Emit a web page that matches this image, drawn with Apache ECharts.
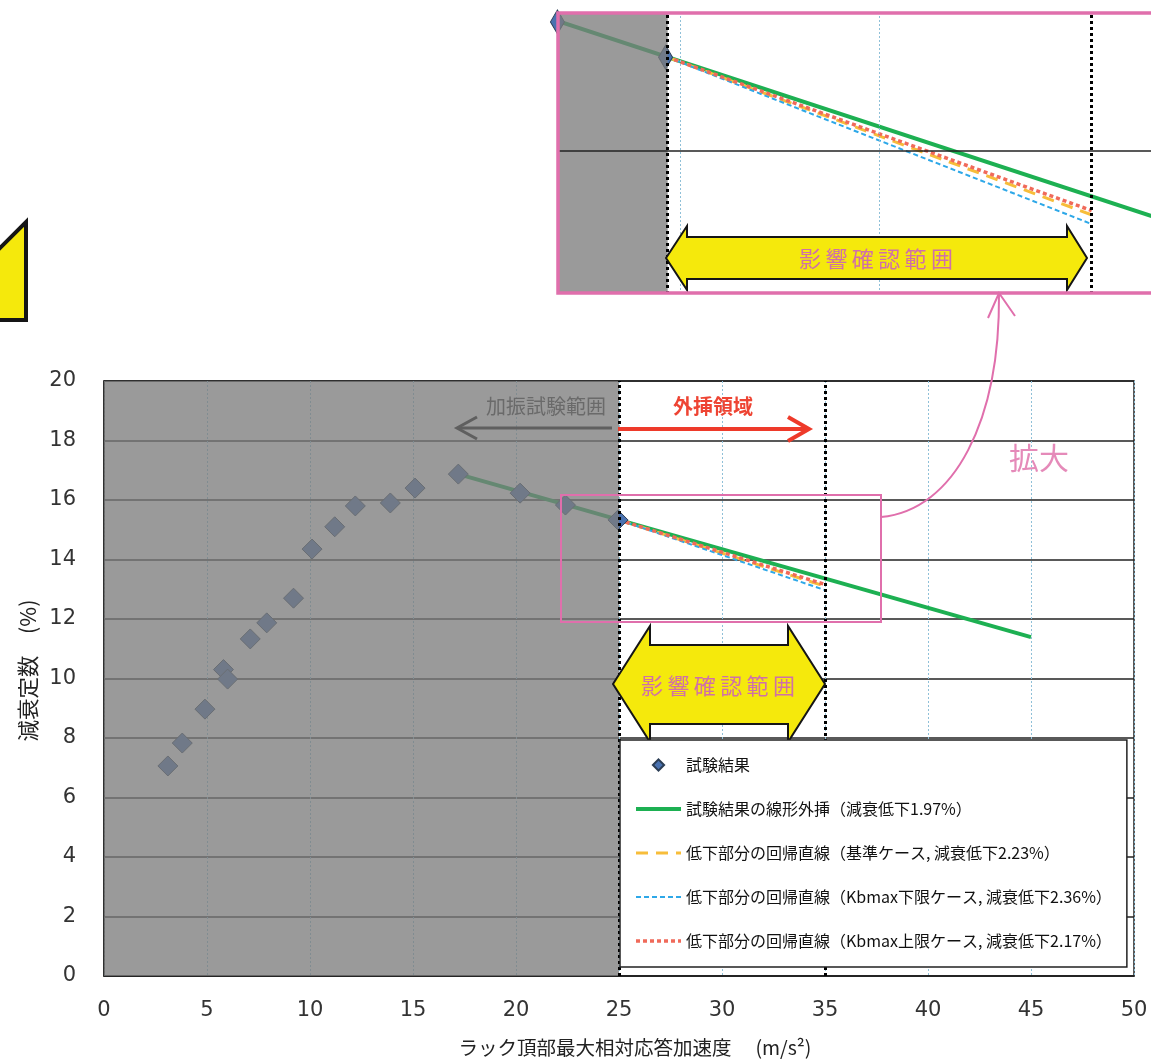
<!DOCTYPE html>
<html>
<head>
<meta charset="utf-8">
<script src="https://cdn.jsdelivr.net/npm/echarts@6/dist/echarts.min.js"></script>
<style>
html, body {margin: 0; padding: 0; background: #fff;}
#main {width: 1151px; height: 1064px;}
</style>
</head>
<body>
<div id="main"></div>
<script>
// 試験結果（読み取り値）
var testX = [3.1, 3.8, 4.9, 5.8, 6.0, 7.1, 7.9, 9.2, 10.1, 11.2, 12.2, 13.9, 15.1, 17.2, 20.2, 22.4, 24.95];
var testY = [7.06, 7.83, 8.97, 10.3, 9.98, 11.33, 11.87, 12.7, 14.35, 15.1, 15.8, 15.9, 16.4, 16.87, 16.23, 15.83, 15.33];
// 線形外挿
var linearX = [17.2, 45];
var linearY = [16.87, 11.39];
// 回帰直線 (25〜35)
var regX = [25, 35];
var baseY = [15.33, 13.10];
var lowerY = [15.33, 12.97];
var upperY = [15.33, 13.16];

var names = [
    '試験結果',
    '試験結果の線形外挿（減衰低下1.97%）',
    '低下部分の回帰直線（基準ケース, 減衰低下2.23%）',
    '低下部分の回帰直線（Kbmax下限ケース, 減衰低下2.36%）',
    '低下部分の回帰直線（Kbmax上限ケース, 減衰低下2.17%）'
];
var xTicks = [0, 50, 5];   // min, max, interval
var yTicks = [0, 20, 2];

var jp = '"Noto Sans CJK JP", sans-serif';
var pink = '#e06fac';

function pairs(xs, ys) {
    return xs.map(function (x, i) { return [x, ys[i]]; });
}

// 1グリッド分のシリーズを作る
function makeSeries(idx, diamondSize) {
    var list = [
        {name: names[1], data: pairs(linearX, linearY), lineStyle: {color: '#1db052', width: 4}},
        {name: names[2], data: pairs(regX, baseY), lineStyle: {color: '#f7bd3a', width: 3, type: [12, 8]}},
        {name: names[3], data: pairs(regX, lowerY), lineStyle: {color: '#2ea8e8', width: 2, type: [5, 3]}},
        {name: names[4], data: pairs(regX, upperY), lineStyle: {color: '#f06a5a', width: 3.5, type: [4, 3]}}
    ];
    var out = [];
    for (var i = 0; i < list.length; i++) {
        out.push({
            name: list[i].name,
            type: 'line',
            xAxisIndex: idx,
            yAxisIndex: idx,
            data: list[i].data,
            symbol: 'none',
            itemStyle: {color: list[i].lineStyle.color},
            lineStyle: list[i].lineStyle,
            z: 2
        });
    }
    out.push({
        name: names[0],
        type: 'line',
        xAxisIndex: idx,
        yAxisIndex: idx,
        data: pairs(testX, testY),
        symbol: 'diamond',
        symbolSize: diamondSize,
        showSymbol: true,
        lineStyle: {width: 0, opacity: 0},
        itemStyle: {color: '#4a72b0', borderColor: '#2c3e55', borderWidth: 1},
        z: 2
    });
    return out;
}

var series = makeSeries(0, 20).concat(makeSeries(1, [14, 24]));

// 加振試験範囲の網掛けと点線
series.push({
    type: 'line',
    xAxisIndex: 0,
    yAxisIndex: 0,
    data: [],
    z: 3,
    silent: true,
    markArea: {
        silent: true,
        z: 3,
        itemStyle: {color: 'rgba(124,124,124,0.77)'},
        data: [[{xAxis: 0}, {xAxis: 25}]]
    },
    markLine: {
        silent: true,
        z: 4,
        symbol: 'none',
        label: {show: false},
        lineStyle: {color: '#000', type: [3, 3], width: 3},
        data: [{xAxis: 25}, {xAxis: 35}]
    }
});
series.push({
    type: 'line',
    xAxisIndex: 1,
    yAxisIndex: 1,
    data: [],
    z: 3,
    silent: true,
    markArea: {
        silent: true,
        z: 3,
        itemStyle: {color: 'rgba(124,124,124,0.77)'},
        data: [[{xAxis: 22.39}, {xAxis: 25}]]
    },
    markLine: {
        silent: true,
        z: 4,
        symbol: 'none',
        label: {show: false},
        data: [
            {yAxis: 14, lineStyle: {color: '#222', type: 'solid', width: 1.5}},
            {xAxis: 25.3, lineStyle: {color: '#8fc0d8', type: [2, 2], width: 1}},
            {xAxis: 30, lineStyle: {color: '#8fc0d8', type: [2, 2], width: 1}},
            {xAxis: 25, lineStyle: {color: '#000', type: [3, 3], width: 3}},
            {xAxis: 35, lineStyle: {color: '#000', type: [3, 3], width: 3}}
        ]
    }
});

// 凡例：線の系列は記号を隠す
var legendData = names.map(function (n, i) {
    return i === 0 ? {name: n} : {name: n, itemStyle: {opacity: 0}};
});

var option = {
    animation: false,
    backgroundColor: '#fff',
    legend: {
        data: legendData,
        orient: 'vertical',
        left: 620,
        top: 740,
        padding: [17, 15, 18, 14],
        itemGap: 28,
        itemWidth: 45,
        itemHeight: 14,
        backgroundColor: '#fff',
        borderColor: '#222',
        borderWidth: 1.5,
        selectedMode: false,
        z: 10,
        lineStyle: {width: 'inherit'},
        textStyle: {fontFamily: jp, fontSize: 16, lineHeight: 14, color: '#111'}
    },
    grid: [
        {left: 104, top: 381, width: 1030, height: 595, show: true, borderColor: '#222', borderWidth: 1.5, backgroundColor: '#fff'},
        {left: 557, top: 12, width: 595, height: 282, show: true, borderWidth: 0, backgroundColor: '#fff'}
    ],
    xAxis: [{
        type: 'value',
        gridIndex: 0,
        min: xTicks[0],
        max: xTicks[1],
        interval: xTicks[2],
        name: 'ラック頂部最大相対応答加速度　 (m/s²)',
        nameLocation: 'middle',
        nameGap: 62,
        nameTextStyle: {fontFamily: jp, fontSize: 19.5, color: '#222', padding: [0, 0, 0, 32]},
        axisLine: {show: true, lineStyle: {color: '#222', width: 1.5}},
        axisTick: {show: false},
        axisLabel: {margin: 24, fontFamily: 'DejaVu Sans', fontSize: 21, color: '#333'},
        splitLine: {show: true, lineStyle: {color: '#8fc0d8', type: [2, 2], width: 1}}
    }, {
        type: 'value',
        gridIndex: 1,
        min: 22.39,
        max: 36.4,
        axisLine: {show: false},
        axisTick: {show: false},
        axisLabel: {show: false},
        splitLine: {show: false}
    }],
    yAxis: [{
        type: 'value',
        gridIndex: 0,
        min: yTicks[0],
        max: yTicks[1],
        interval: yTicks[2],
        name: '減衰定数　(%)',
        nameLocation: 'middle',
        nameRotate: 90,
        nameGap: 60,
        nameTextStyle: {fontFamily: jp, fontSize: 21.5, color: '#222', padding: [0, 0, 0, 16]},
        axisLine: {show: true, lineStyle: {color: '#222', width: 1.5}},
        axisTick: {show: false},
        axisLabel: {margin: 28, fontFamily: 'DejaVu Sans', fontSize: 21, color: '#333'},
        splitLine: {show: true, lineStyle: {color: '#222', width: 1.5}}
    }, {
        type: 'value',
        gridIndex: 1,
        min: 11.98,
        max: 15.97,
        axisLine: {show: false},
        axisTick: {show: false},
        axisLabel: {show: false},
        splitLine: {show: false}
    }],
    series: series,
    graphic: [
        // 左上の矢印の切れ端
        {type: 'polygon', z: 20, shape: {points: [[-10, 258], [26, 222], [26, 320], [-10, 320]]},
            style: {fill: '#f5e90c', stroke: '#151515', lineWidth: 4}},
        // 拡大図の枠
        {type: 'rect', z: 20, shape: {x: 558, y: 13, width: 600, height: 280},
            style: {fill: 'none', stroke: pink, lineWidth: 3.5}},
        // 拡大図の影響確認範囲
        {type: 'polygon', z: 19, shape: {points: [[666, 258], [687, 226], [687, 237], [1067, 237], [1067, 226], [1087, 258], [1067, 290], [1067, 279], [687, 279], [687, 290]]},
            style: {fill: '#f5e90c', stroke: '#151515', lineWidth: 2}},
        {type: 'text', z: 20, x: 876, y: 259, style: {text: '影\u2009響\u2009確\u2009認\u2009範\u2009囲', fontFamily: jp, fontSize: 22, fill: '#d070a8', align: 'center', verticalAlign: 'middle'}},
        // 本図の影響確認範囲
        {type: 'polygon', z: 5, shape: {points: [[613, 684], [650, 626], [650, 645], [788, 645], [788, 626], [825, 684], [788, 742], [788, 724], [650, 724], [650, 742]]},
            style: {fill: '#f5e90c', stroke: '#151515', lineWidth: 2}},
        {type: 'text', z: 6, x: 718, y: 686, style: {text: '影\u2009響\u2009確\u2009認\u2009範\u2009囲', fontFamily: jp, fontSize: 22, fill: '#d070a8', align: 'center', verticalAlign: 'middle'}},
        // 拡大範囲の枠と引き出し線
        {type: 'rect', z: 8, shape: {x: 561, y: 495, width: 320, height: 127},
            style: {fill: 'none', stroke: pink, lineWidth: 2}},
        {type: 'bezierCurve', z: 8, shape: {x1: 881, y1: 517, cpx1: 955, cpy1: 510, cpx2: 1000, cpy2: 420, x2: 999, y2: 294},
            style: {fill: 'none', stroke: pink, lineWidth: 2}},
        {type: 'polyline', z: 8, shape: {points: [[988, 318], [999, 293], [1015, 316]]},
            style: {fill: 'none', stroke: pink, lineWidth: 2}},
        {type: 'text', z: 8, x: 1039, y: 458, style: {text: '拡大', fontFamily: jp, fontSize: 30, fill: '#e58ab9', align: 'center', verticalAlign: 'middle'}},
        // 加振試験範囲 / 外挿領域
        {type: 'text', z: 8, x: 546, y: 406, style: {text: '加振試験範囲', fontFamily: jp, fontSize: 20, fill: '#6a6a6a', align: 'center', verticalAlign: 'middle'}},
        {type: 'line', z: 8, shape: {x1: 612, y1: 428, x2: 458, y2: 428}, style: {stroke: '#5f5f5f', lineWidth: 3}},
        {type: 'polyline', z: 8, shape: {points: [[477, 417], [457, 428], [477, 439]]}, style: {fill: 'none', stroke: '#5f5f5f', lineWidth: 3}},
        {type: 'text', z: 8, x: 713, y: 406, style: {text: '外挿領域', fontFamily: jp, fontSize: 20, fontWeight: 'bold', fill: '#ee4433', align: 'center', verticalAlign: 'middle'}},
        {type: 'line', z: 8, shape: {x1: 618, y1: 429, x2: 807, y2: 429}, style: {stroke: '#ee3a2a', lineWidth: 4}},
        {type: 'polyline', z: 8, shape: {points: [[788, 417], [809, 429], [788, 441]]}, style: {fill: 'none', stroke: '#ee3a2a', lineWidth: 4}}
    ]
};

var chart = echarts.init(document.getElementById('main'));
chart.setOption(option);
</script>
</body>
</html>
